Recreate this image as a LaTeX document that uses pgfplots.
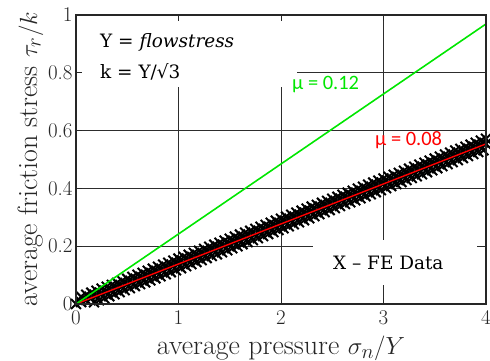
\documentclass[border=0pt]{standalone}
\usepackage{pgfplots}
\pgfplotsset{compat=1.18}
\usepackage{fontspec}
\newfontfamily\calibri{Carlito}
\newfontfamily\cambria{DejaVu Serif}
\definecolor{axgray}{RGB}{38,38,38}
\definecolor{gridgray}{RGB}{45,45,45}
\definecolor{mgreen}{RGB}{0,230,0}
\begin{document}
\begin{tikzpicture}
\begin{axis}[
 scale only axis, width=410bp, height=289bp,
 xmin=0, xmax=4, ymin=0, ymax=1,
 xtick={0,1,2,3,4}, ytick={0,0.2,0.4,0.6,0.8,1},
 xticklabels={0,1,2,3,4},
 yticklabels={0,0.2,0.4,0.6,0.8,1},
 tick align=inside, major tick length=6bp,
 axis line style={draw=axgray, line width=1.1pt},
 tick style={draw=axgray, line width=1pt},
 ticklabel style={font=\fontsize{21}{24}\selectfont, text=axgray},
 xticklabel style={yshift=-3bp},
 xlabel style={font=\fontsize{28}{32}\selectfont, text=axgray, yshift=-4.5bp},
 ylabel style={font=\fontsize{28}{32}\selectfont, text=axgray, yshift=-2bp},
 xlabel={average pressure $\sigma_n/Y$},
 ylabel={average friction stress $\tau_r/k$},
 clip=false, clip marker paths=true, axis on top,
]
% grid
\foreach \gx in {1,2,3} {\edef\tmp{\noexpand\draw[gridgray, line width=0.9pt] (axis cs:\gx,0) -- (axis cs:\gx,1);}\tmp}
\foreach \gy in {0.2,0.4,0.6,0.8} {\edef\tmp{\noexpand\draw[gridgray, line width=0.9pt] (axis cs:0,\gy) -- (axis cs:4,\gy);}\tmp}
% white text boxes
\fill[white] (axis cs:0,0.75) rectangle (axis cs:2.16,1);
\fill[white] (axis cs:2.31,0.066) rectangle (axis cs:3.91,0.22);
% FE data
\addplot[only marks, mark=x, mark size=7bp, mark options={line width=2pt, draw=black}] coordinates {
(0,0)
(0.05,0.025) (0.10,0.032) (0.15,0.039) (0.20,0.046) (0.25,0.053) (0.30,0.060) (0.35,0.066) (0.40,0.073) (0.45,0.080) (0.50,0.087)
(0.55,0.094) (0.60,0.101) (0.65,0.108) (0.70,0.115) (0.75,0.122) (0.80,0.129) (0.85,0.136) (0.90,0.143) (0.95,0.150) (1.00,0.157)
(1.05,0.163) (1.10,0.170) (1.15,0.177) (1.20,0.184) (1.25,0.191) (1.30,0.198) (1.35,0.205) (1.40,0.212) (1.45,0.219) (1.50,0.226)
(1.55,0.233) (1.60,0.240) (1.65,0.247) (1.70,0.253) (1.75,0.260) (1.80,0.267) (1.85,0.274) (1.90,0.281) (1.95,0.288) (2.00,0.295)
(2.05,0.302) (2.10,0.309) (2.15,0.316) (2.20,0.323) (2.25,0.330) (2.30,0.337) (2.35,0.343) (2.40,0.350) (2.45,0.357) (2.50,0.364)
(2.55,0.371) (2.60,0.378) (2.65,0.385) (2.70,0.392) (2.75,0.399) (2.80,0.406) (2.85,0.413) (2.90,0.420) (2.95,0.427) (3.00,0.434)
(3.05,0.440) (3.10,0.447) (3.15,0.454) (3.20,0.461) (3.25,0.468) (3.30,0.475) (3.35,0.482) (3.40,0.489) (3.45,0.496) (3.50,0.503)
(3.55,0.510) (3.60,0.517) (3.65,0.524) (3.70,0.531) (3.75,0.537) (3.80,0.544) (3.85,0.551) (3.90,0.558) (3.95,0.565) (4.00,0.572)
(0.175,0.006) (0.225,0.013) (0.275,0.020) (0.325,0.027) (0.375,0.034) (0.425,0.041) (0.475,0.048) (0.525,0.055) (0.575,0.062) (0.625,0.069)
(0.675,0.075) (0.725,0.082) (0.775,0.089) (0.825,0.096) (0.875,0.103) (0.925,0.110) (0.975,0.117) (1.025,0.124) (1.075,0.131) (1.125,0.138)
(1.175,0.145) (1.225,0.152) (1.275,0.159) (1.325,0.166) (1.375,0.172) (1.425,0.179) (1.475,0.186) (1.525,0.193) (1.575,0.200) (1.625,0.207)
(1.675,0.214) (1.725,0.221) (1.775,0.228) (1.825,0.235) (1.875,0.242) (1.925,0.249) (1.975,0.256) (2.025,0.262) (2.075,0.269) (2.125,0.276)
(2.175,0.283) (2.225,0.290) (2.275,0.297) (2.325,0.304) (2.375,0.311) (2.425,0.318) (2.475,0.325) (2.525,0.332) (2.575,0.339) (2.625,0.346)
(2.675,0.352) (2.725,0.359) (2.775,0.366) (2.825,0.373) (2.875,0.380) (2.925,0.387) (2.975,0.394) (3.025,0.401) (3.075,0.408) (3.125,0.415)
(3.175,0.422) (3.225,0.429) (3.275,0.436) (3.325,0.442) (3.375,0.449) (3.425,0.456) (3.475,0.463) (3.525,0.470) (3.575,0.477) (3.625,0.484)
(3.675,0.491) (3.725,0.498) (3.775,0.505) (3.825,0.512) (3.875,0.519) (3.925,0.526) (3.975,0.532)
(0.05,0.007) (0.10,0.014) (0.15,0.021) (0.20,0.028) (0.25,0.035) (0.30,0.042) (0.35,0.048) (0.40,0.055) (0.45,0.062) (0.50,0.069)
(0.55,0.076) (0.60,0.083) (0.65,0.090) (0.70,0.097) (0.75,0.104) (0.80,0.111) (0.85,0.118) (0.90,0.125) (0.95,0.132) (1.00,0.139)
(1.05,0.145) (1.10,0.152) (1.15,0.159) (1.20,0.166) (1.25,0.173) (1.30,0.180) (1.35,0.187) (1.40,0.194) (1.45,0.201) (1.50,0.208)
(1.55,0.215) (1.60,0.222) (1.65,0.229) (1.70,0.235) (1.75,0.242) (1.80,0.249) (1.85,0.256) (1.90,0.263) (1.95,0.270) (2.00,0.277)
(2.05,0.284) (2.10,0.291) (2.15,0.298) (2.20,0.305) (2.25,0.312) (2.30,0.319) (2.35,0.325) (2.40,0.332) (2.45,0.339) (2.50,0.346)
(2.55,0.353) (2.60,0.360) (2.65,0.367) (2.70,0.374) (2.75,0.381) (2.80,0.388) (2.85,0.395) (2.90,0.402) (2.95,0.409) (3.00,0.416)
(3.05,0.422) (3.10,0.429) (3.15,0.436) (3.20,0.443) (3.25,0.450) (3.30,0.457) (3.35,0.464) (3.40,0.471) (3.45,0.478) (3.50,0.485)
(3.55,0.492) (3.60,0.499) (3.65,0.506) (3.70,0.513) (3.75,0.519) (3.80,0.526) (3.85,0.533) (3.90,0.540) (3.95,0.547) (4.00,0.554)
};
% fits
\addplot[red, line width=1.4pt] coordinates {(0,0) (4,0.554)};
\addplot[mgreen, line width=1.6pt] coordinates {(0,0) (4,0.969)};
% annotations
\node[anchor=west, font=\cambria\fontsize{18.5}{22}\selectfont, text=black, inner sep=0pt] at (axis cs:0.234,0.906) {Y = \textit{flowstress}};
\node[anchor=west, font=\cambria\fontsize{18.5}{22}\selectfont, text=black, inner sep=0pt] at (axis cs:0.234,0.803) {k = Y/√3};
\node[anchor=west, font=\calibri\fontsize{20.5}{24}\selectfont, text=mgreen, inner sep=0pt] at (axis cs:2.107,0.761) {μ = 0.12};
\node[anchor=west, font=\calibri\fontsize{20.5}{24}\selectfont, text=red, inner sep=0pt] at (axis cs:2.917,0.567) {μ = 0.08};
\node[anchor=west, font=\cambria\fontsize{18.5}{22}\selectfont, text=black, inner sep=0pt] at (axis cs:2.507,0.142) {X – FE Data};
\end{axis}
\pgfresetboundingbox
\path (current axis.south west) ++(-76bp,-57bp) rectangle ++(490bp,361bp);
\end{tikzpicture}
\end{document}
